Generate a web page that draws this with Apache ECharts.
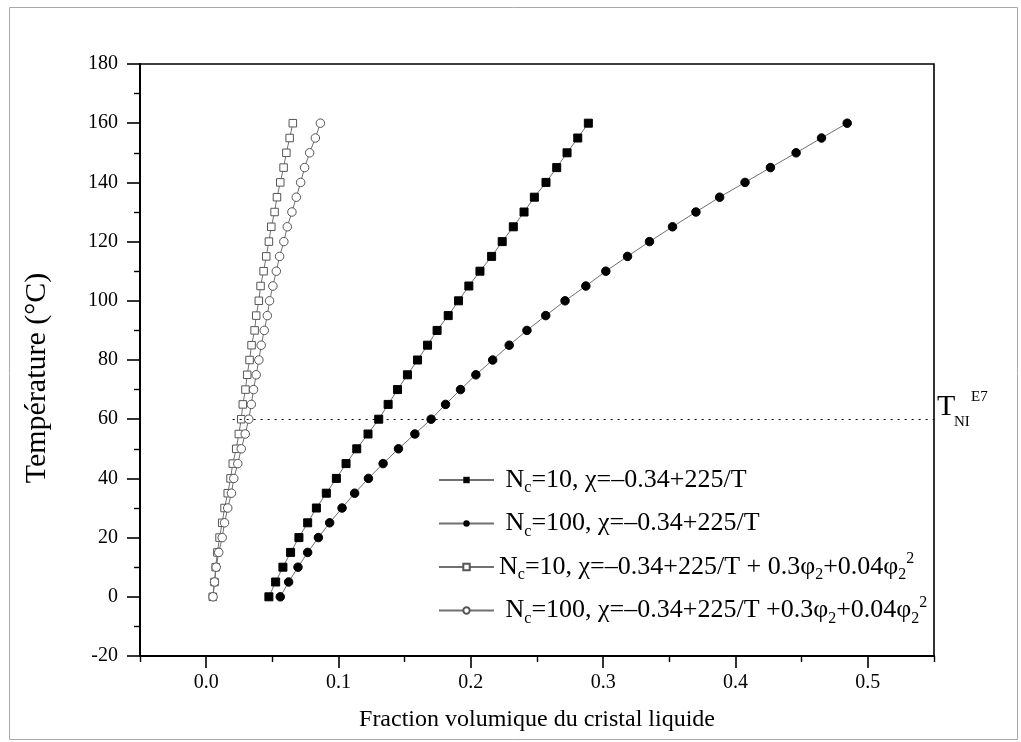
<!DOCTYPE html>
<html>
<head>
<meta charset="utf-8">
<script src="https://cdn.jsdelivr.net/npm/echarts@6/dist/echarts.min.js"></script>
<style>html,body{margin:0;padding:0;background:#fff;}#chart{width:1021px;height:742px;}</style>
</head>
<body>
<div id="chart"></div>
<script>
// ---- data (temperature in °C, volume fraction of liquid crystal) ----
const temps = [0,5,10,15,20,25,30,35,40,45,50,55,60,65,70,75,80,85,90,95,100,105,110,115,120,125,130,135,140,145,150,155,160];
const nc10 = [0.0474,0.0525,0.0580,0.0638,0.0701,0.0767,0.0833,0.0908,0.0984,0.1057,0.1138,0.1223,0.1304,0.1375,0.1446,0.1521,0.1597,0.1673,0.1745,0.1829,0.1907,0.1985,0.2069,0.2157,0.2237,0.2321,0.2402,0.2480,0.2568,0.2649,0.2727,0.2808,0.2888];
const nc100 = [0.0560,0.0623,0.0694,0.0767,0.0848,0.0933,0.1027,0.1122,0.1226,0.1337,0.1453,0.1577,0.1700,0.1809,0.1922,0.2038,0.2165,0.2290,0.2424,0.2566,0.2712,0.2869,0.3020,0.3184,0.3350,0.3524,0.3701,0.3880,0.4072,0.4264,0.4458,0.4650,0.4844];
const nc10phi = [0.0050,0.0063,0.0072,0.0085,0.0101,0.0121,0.0139,0.0163,0.0184,0.0201,0.0227,0.0247,0.0265,0.0277,0.0297,0.0310,0.0328,0.0343,0.0366,0.0378,0.0398,0.0411,0.0434,0.0454,0.0474,0.0492,0.0517,0.0535,0.0560,0.0585,0.0606,0.0631,0.0655];
const nc100phi = [0.0052,0.0063,0.0076,0.0095,0.0121,0.0139,0.0163,0.0191,0.0209,0.0239,0.0265,0.0295,0.0322,0.0341,0.0358,0.0378,0.0398,0.0416,0.0439,0.0462,0.0479,0.0504,0.0530,0.0555,0.0587,0.0613,0.0648,0.0681,0.0714,0.0744,0.0782,0.0825,0.0863];
const seriesNames = ['Nc=10, χ=–0.34+225/T','Nc=100, χ=–0.34+225/T','Nc=10, χ=–0.34+225/T + 0.3φ2+0.04φ2^2','Nc=100, χ=–0.34+225/T +0.3φ2+0.04φ2^2'];
const legendRich = [
  ' N{sub|c}=10, χ=–0.34+225/T',
  ' N{sub|c}=100, χ=–0.34+225/T',
  'N{sub|c}=10, χ=–0.34+225/T + 0.3φ{sub|2}+0.04φ{sub|2}{sup|2}',
  ' N{sub|c}=100, χ=–0.34+225/T +0.3φ{sub|2}+0.04φ{sub|2}{sup|2}'
];
const xMajorTicks = [0.0,0.1,0.2,0.3,0.4,0.5];
const xMinorTicks = [-0.05,0.05,0.15,0.25,0.35,0.45,0.55];
const tniTemp = 60;
const tniLineFrom = 0.02;
const xName = 'Fraction volumique du cristal liquide';
const yName = 'Température (°C)';

const FONT = 'Liberation Serif';
const pts = arr => temps.map((t, i) => [arr[i], t]);

const chart = echarts.init(document.getElementById('chart'), null, {renderer: 'canvas'});
const lineGrey = '#707070';
const option = {
  animation: false,
  backgroundColor: '#fff',
  grid: {left: 140, right: 87, top: 64, bottom: 86, show: true, borderColor: '#000', borderWidth: 1.6, containLabel: false},
  xAxis: [{
    type: 'value', min: -0.05, max: 0.55,
    name: xName, nameLocation: 'middle', nameGap: 52,
    nameTextStyle: {fontFamily: FONT, fontSize: 24, color: '#000'},
    axisLine: {show: true, onZero: false, lineStyle: {color: '#000', width: 2}},
    axisTick: {show: true, inside: false, length: 12, lineStyle: {color: '#000', width: 1.6}, customValues: xMajorTicks},
    axisLabel: {show: true, margin: 17, fontFamily: FONT, fontSize: 20, color: '#000', customValues: xMajorTicks, formatter: v => v.toFixed(1)},
    splitLine: {show: false}
  }, {
    type: 'value', min: -0.05, max: 0.55, position: 'bottom', gridIndex: 0,
    axisLine: {show: false, onZero: false},
    axisTick: {show: true, inside: false, length: 6, lineStyle: {color: '#000', width: 1.4}, customValues: xMinorTicks},
    axisLabel: {show: false},
    splitLine: {show: false}
  }],
  yAxis: {
    type: 'value', min: -20, max: 180, interval: 20,
    axisLine: {show: true, onZero: false, lineStyle: {color: '#000', width: 2}},
    axisTick: {show: true, inside: false, length: 13, lineStyle: {color: '#000', width: 1.6}},
    minorTick: {show: true, splitNumber: 2, length: 6, lineStyle: {color: '#000', width: 1.4}},
    axisLabel: {margin: 22, fontFamily: FONT, fontSize: 20, color: '#000'},
    splitLine: {show: false}
  },
  legend: {
    orient: 'vertical', left: 438, top: 464, padding: 0,
    itemWidth: 55, itemHeight: 8, itemGap: 11.5,
    data: seriesNames,
    formatter: name => legendRich[seriesNames.indexOf(name)],
    textStyle: {
      fontFamily: FONT, fontSize: 26, color: '#000', lineHeight: 30,
      rich: {
        sub: {fontFamily: FONT, fontSize: 16, lineHeight: 16, color: '#000', padding: [16, 0, 0, 0]},
        sup: {fontFamily: FONT, fontSize: 16, lineHeight: 16, color: '#000', padding: [0, 0, 16, 0]}
      }
    }
  },
  series: [
    {name: seriesNames[0], type: 'line', data: pts(nc10), symbol: 'rect', symbolSize: 8,
     itemStyle: {color: '#000', borderColor: '#000'}, lineStyle: {color: lineGrey, width: 1},
     markLine: {silent: true, symbol: ['none', 'none'], label: {show: false},
       lineStyle: {color: '#000', type: [2, 5], width: 1.2},
       data: [[{coord: [tniLineFrom, tniTemp]}, {coord: [0.55, tniTemp]}]]}},
    {name: seriesNames[1], type: 'line', data: pts(nc100), symbol: 'circle', symbolSize: 8.5,
     itemStyle: {color: '#000', borderColor: '#000'}, lineStyle: {color: lineGrey, width: 1}},
    {name: seriesNames[2], type: 'line', data: pts(nc10phi), symbol: 'rect', symbolSize: 7.5,
     itemStyle: {color: '#fff', borderColor: '#555', borderWidth: 1}, lineStyle: {color: lineGrey, width: 1}},
    {name: seriesNames[3], type: 'line', data: pts(nc100phi), symbol: 'circle', symbolSize: 8.5,
     itemStyle: {color: '#fff', borderColor: '#555', borderWidth: 1}, lineStyle: {color: lineGrey, width: 1}}
  ],
  graphic: [
    {type: 'rect', left: 7, top: 5, silent: true, z: -10,
     shape: {width: 1008, height: 732}, style: {fill: 'none', stroke: '#aaa', lineWidth: 1}},
    {type: 'text', x: 37, y: 378, rotation: Math.PI / 2, silent: true,
     style: {text: yName, font: '30px "Liberation Serif"', fill: '#000', verticalAlign: 'middle', align: 'center'}},
    {type: 'text', x: 937, y: 407, silent: true,
     style: {text: 'T', font: '30px "Liberation Serif"', fill: '#000', verticalAlign: 'middle', align: 'left'}},
    {type: 'text', x: 954, y: 422, silent: true,
     style: {text: 'NI', font: '15px "Liberation Serif"', fill: '#000', verticalAlign: 'middle', align: 'left'}},
    {type: 'text', x: 971, y: 397, silent: true,
     style: {text: 'E7', font: '15px "Liberation Serif"', fill: '#000', verticalAlign: 'middle', align: 'left'}}
  ]
};
chart.setOption(option);
</script>
</body>
</html>
